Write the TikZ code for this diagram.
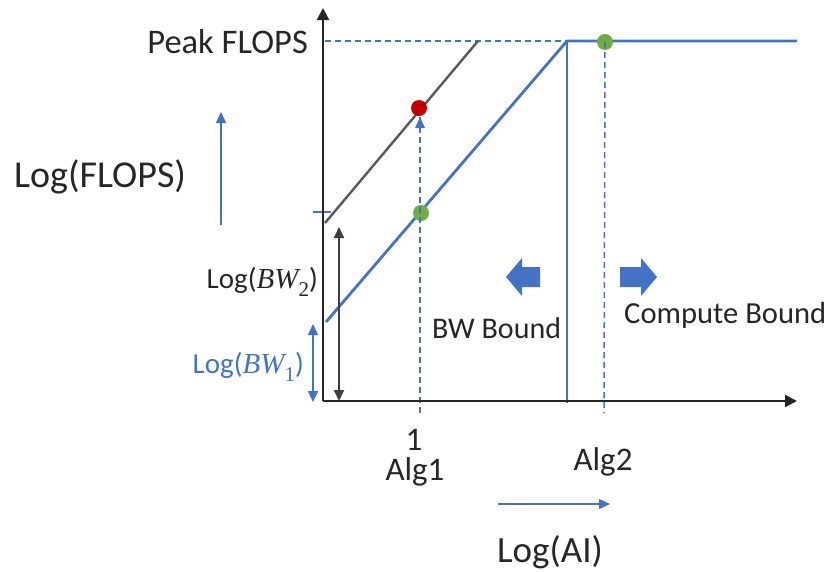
\documentclass[tikz,border=0pt]{standalone}
\usepackage{fontspec}
\setmainfont{Carlito}
\newfontfamily\varfont{Liberation Serif}
\usetikzlibrary{arrows.meta}

\definecolor{roofblue}{HTML}{4472C4}
\definecolor{roofgray}{HTML}{595959}
\definecolor{dotgreen}{HTML}{70AD47}
\definecolor{dotred}{HTML}{C00000}

% italic variable with an upright subscript, for the bandwidth labels
\newcommand{\bwvar}[1]{{\varfont\itshape BW}\raisebox{-0.28em}{\varfont\fontsize{21}{24}\selectfont #1}}

\tikzset{
  axis/.style={line width=2.2pt, black!85, -{Triangle[length=12pt,width=12pt]}},
  roof/.style={line width=2.8pt, roofblue},
  divider/.style={line width=1.6pt, roofblue},
  bwgray/.style={line width=2.4pt, roofgray},
  guide/.style={line width=1.5pt, roofblue, dash pattern=on 6pt off 4pt},
  hint/.style={line width=1.4pt, roofblue, -{Triangle[length=11pt,width=10pt]}},
  span/.style={line width=1.6pt, {Triangle[length=11pt,width=10pt]}-{Triangle[length=11pt,width=10pt]}},
  dot/.style={circle, inner sep=0pt, minimum size=16pt},
  lbl/.style={inner sep=0pt, text=black!85},
  blockarrow/.style={fill=roofblue, draw=none},
}

\begin{document}
\begin{tikzpicture}[x=1pt,y=-1pt]
\useasboundingbox (0,0) rectangle (827,571);

% axes
\coordinate (O) at (323,401);
\coordinate (ytop) at (323,8);
\coordinate (xend) at (797,401);

% roofline geometry
\coordinate (peakL) at (325,41);
\coordinate (knee) at (567,41);
\coordinate (flatR) at (797,41);
\coordinate (kneeFoot) at (567,403);
\coordinate (bw1Start) at (326,322);
\coordinate (bw2Start) at (325,223);
\coordinate (bw2End) at (478,41);

% peak level guide
\draw[guide] (peakL) -- (knee);

% second (higher) bandwidth roof
\draw[bwgray] (bw2Start) -- (bw2End);

% main roofline and ridge point
\draw[roof, line join=miter] (bw1Start) -- (knee) -- (flatR);
\draw[divider] (knee) -- (kneeFoot);

% small tick at the gray roof start
\coordinate (tickL) at (313,212);
\coordinate (tickR) at (331,212);
\draw[line width=1.3pt, roofblue] (tickL) -- (tickR);

% algorithm points
\node[dot, fill=dotred] (alg1hi) at (419,108) {};
\node[dot, fill=dotgreen] (alg1lo) at (421,213) {};
\node[dot, fill=dotgreen] (alg2pt) at (605,42) {};

% vertical guides from the x-axis
\coordinate (alg1Foot) at (420,413);
\coordinate (alg1Tip) at (420,117);
\draw[guide] (alg1Foot) -- (alg1Tip);
\fill[roofblue] (420,117) -- (415,128) -- (425,128) -- cycle;
\coordinate (alg2Foot) at (604,413);
\draw[guide] (alg2pt.center) -- (alg2Foot);

% axes drawn on top
\draw[axis] (O) -- (ytop);
\draw[axis] (O) -- (xend);

% bandwidth spans
\coordinate (bw2Top) at (339,227);
\coordinate (bw2Bot) at (339,401);
\draw[span, roofgray!70!black, line width=1.8pt] (bw2Top) -- (bw2Bot);
\coordinate (bw1Top) at (313,324);
\coordinate (bw1Bot) at (313,402);
\draw[span, roofblue] (bw1Top) -- (bw1Bot);

% direction hints
\coordinate (upFoot) at (221,225);
\coordinate (upTip) at (221,112);
\draw[hint] (upFoot) -- (upTip);
\coordinate (rtFoot) at (498,504);
\coordinate (rtTip) at (610,504);
\draw[hint] (rtFoot) -- (rtTip);

% block arrows around the ridge point
\fill[blockarrow] (506,277) -- (522,258) -- (522,267) -- (540,267) -- (540,287) -- (522,287) -- (522,296) -- cycle;
\fill[blockarrow] (657,277) -- (641,258) -- (641,267) -- (620,267) -- (620,287) -- (641,287) -- (641,296) -- cycle;

% labels
\node[lbl, anchor=base east, font=\fontsize{34.5}{40}\selectfont] (peakLbl) at (308,53) {Peak FLOPS};
\node[lbl, anchor=base west, font=\fontsize{38}{45}\selectfont] (yLbl) at (14,187) {Log(FLOPS)};
\node[lbl, anchor=base east, font=\fontsize{29}{35}\selectfont] (bw2Lbl) at (318,288) {Log(\bwvar{2})};
\node[lbl, anchor=base east, font=\fontsize{29}{35}\selectfont, text=roofblue] (bw1Lbl) at (304,373) {Log(\bwvar{1})};
\node[lbl, anchor=base west, font=\fontsize{30}{36}\selectfont] (bwBound) at (432,338) {BW Bound};
\node[lbl, anchor=base west, font=\fontsize{30.6}{36}\selectfont] (cpBound) at (624,323) {Compute Bound};
\node[lbl, anchor=base, font=\fontsize{33}{40}\selectfont] (oneLbl) at (414,450) {1};
\node[lbl, anchor=base, font=\fontsize{33}{40}\selectfont] (alg1Lbl) at (415,480) {Alg1};
\node[lbl, anchor=base, font=\fontsize{33}{40}\selectfont] (alg2Lbl) at (603,470) {Alg2};
\node[lbl, anchor=base, font=\fontsize{37}{44}\selectfont] (xLbl) at (550,562) {Log(AI)};
\end{tikzpicture}
\end{document}
